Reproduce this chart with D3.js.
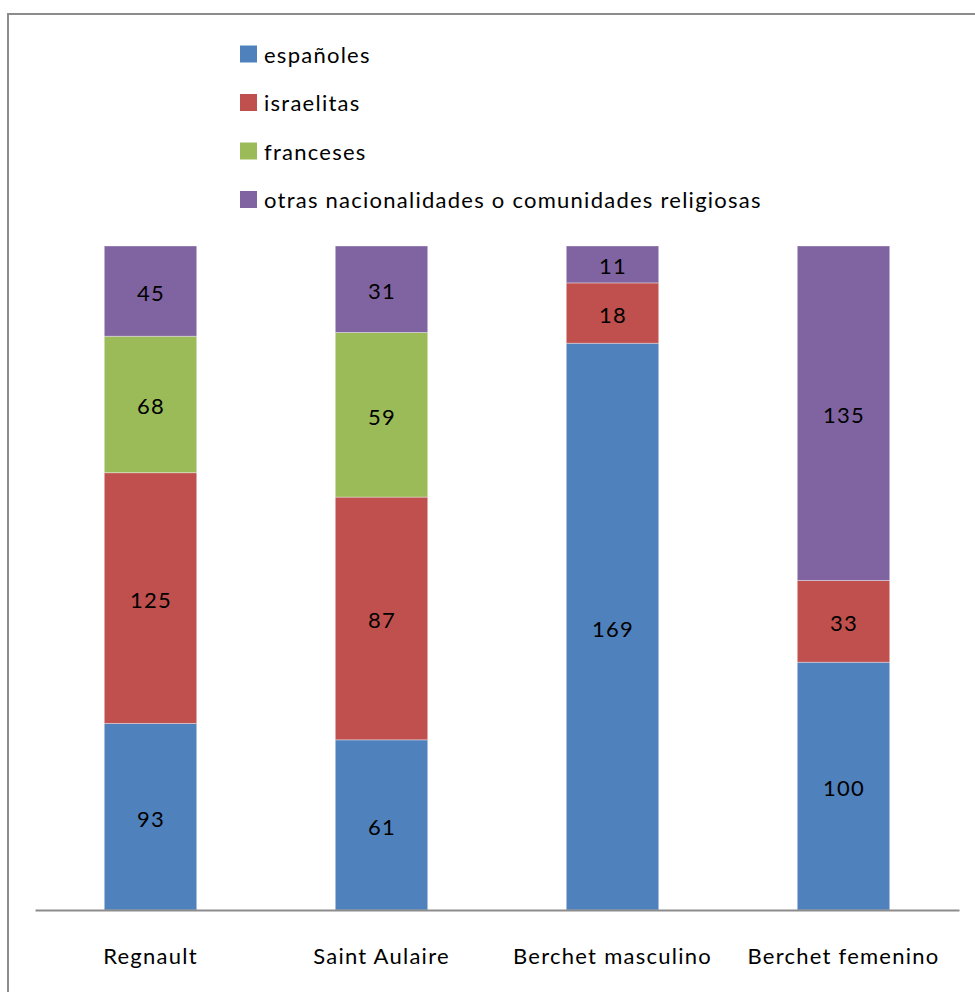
<!DOCTYPE html>
<html><head><meta charset="utf-8">
<script src="https://cdn.jsdelivr.net/npm/d3@7"></script>
<style>body{margin:0;background:#fff}svg{display:block}</style>
</head><body>
<script>
const categories = ["Regnault", "Saint Aulaire", "Berchet masculino", "Berchet femenino"];
const seriesNames = ["españoles", "israelitas", "franceses", "otras nacionalidades o comunidades religiosas"];
const espanoles = [93, 61, 169, 100];
const israelitas = [125, 87, 18, 33];
const franceses = [68, 59, 0, 0];
const otras = [45, 31, 11, 135];
const colors = ["#4F81BD", "#C0504D", "#9BBB59", "#8064A2"];

const W = 975, H = 992;
const font = "Lato, 'Open Sans', sans-serif";
const ls = "1.25px";
const svg = d3.select("body").append("svg").attr("width", W).attr("height", H);

svg.append("rect").attr("x", 8).attr("y", 14).attr("width", W + 10).attr("height", H + 10)
  .attr("fill", "#fff").attr("stroke", "#8c8c8c").attr("stroke-width", 2);

const rows = categories.map((c, i) => {
  const o = {cat: c};
  o[0] = espanoles[i]; o[1] = israelitas[i]; o[2] = franceses[i]; o[3] = otras[i];
  o.total = espanoles[i] + israelitas[i] + franceses[i] + otras[i];
  return o;
});
const norm = rows.map(r => ({cat: r.cat, 0: r[0]/r.total, 1: r[1]/r.total, 2: r[2]/r.total, 3: r[3]/r.total, raw: r}));
const stack = d3.stack().keys([0,1,2,3]);
const layers = stack(norm);

const x = d3.scaleBand().domain(categories).range([35, 959]).paddingInner(0.6).paddingOuter(0.3);
const y = d3.scaleLinear().domain([0, 1]).range([910, 246]);

layers.forEach((layer, k) => {
  const g = svg.append("g");
  layer.forEach(d => {
    const v = d.data.raw[k];
    if (!v) return;
    g.append("rect")
      .attr("x", x(d.data.cat)).attr("width", x.bandwidth())
      .attr("y", y(d[1])).attr("height", y(d[0]) - y(d[1]))
      .attr("fill", colors[k]).attr("stroke", "rgba(255,255,255,0.35)").attr("stroke-width", 1);
    g.append("text")
      .attr("x", x(d.data.cat) + x.bandwidth()/2 + 0.6)
      .attr("y", (y(d[0]) + y(d[1]))/2)
      .attr("dy", "0.45em").attr("text-anchor", "middle")
      .attr("font-family", font).attr("font-size", 22).attr("letter-spacing", ls).attr("fill", "#000")
      .text(v);
  });
});

const xAxis = svg.append("g").attr("transform", "translate(0,910)")
  .call(d3.axisBottom(x).tickSize(0).tickPadding(38).tickSizeOuter(0));
xAxis.select(".domain").attr("stroke", "#8c8c8c").attr("stroke-width", 2);
xAxis.selectAll("text").attr("font-family", font).attr("font-size", 22).attr("letter-spacing", ls).attr("fill", "#000");

const legend = svg.append("g");
seriesNames.forEach((s, i) => {
  const cy = 54 + i * 48.5;
  legend.append("rect").attr("x", 240).attr("y", cy - 8.5).attr("width", 17).attr("height", 17).attr("fill", colors[i]);
  legend.append("text").attr("x", 264).attr("y", cy).attr("dy", "0.4em")
    .attr("font-family", font).attr("font-size", 22).attr("letter-spacing", ls).attr("fill", "#000").text(s);
});
</script>
</body></html>
